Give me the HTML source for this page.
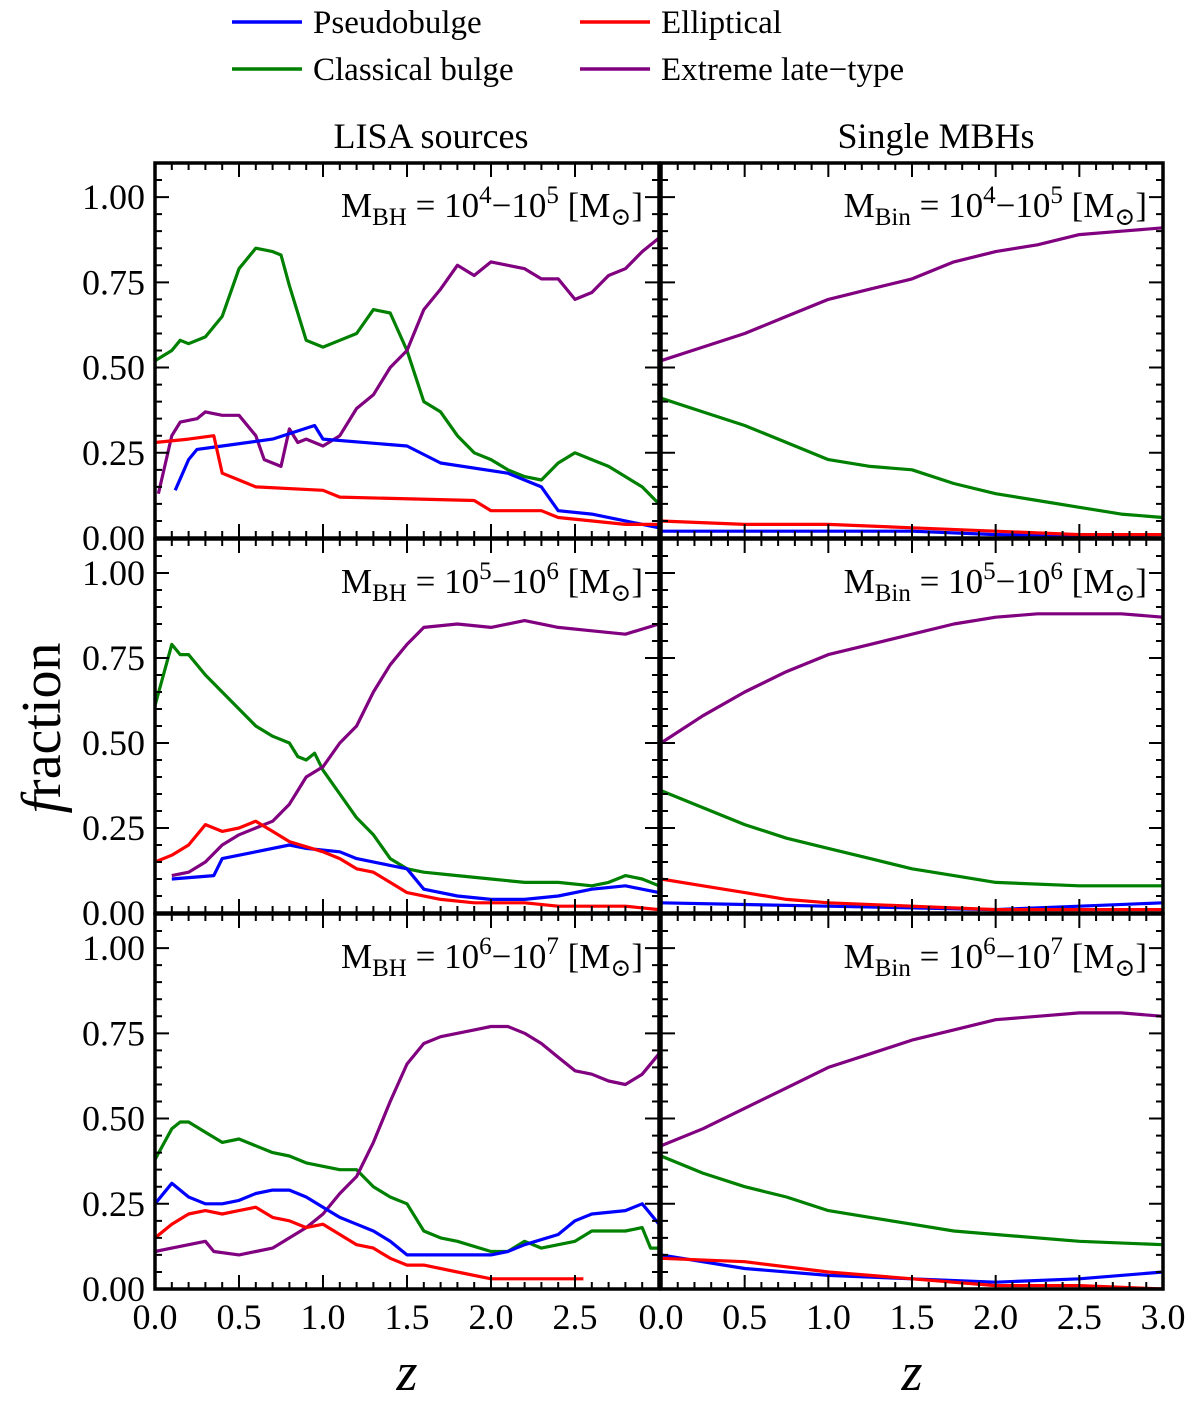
<!DOCTYPE html>
<html><head><meta charset="utf-8"><style>
html,body{margin:0;padding:0;background:#fff;}
svg{display:block;font-family:"Liberation Serif","DejaVu Serif",serif;}
</style></head><body>
<svg id="fig" width="1200" height="1401" viewBox="0 0 1200 1401" xmlns="http://www.w3.org/2000/svg">
<g font-size="33">
  <g><line x1="232" y1="22" x2="302" y2="22" stroke="#0000ff" stroke-width="3.5"/><text x="313" y="33">Pseudobulge</text></g>
  <g><line x1="232" y1="69" x2="302" y2="69" stroke="#008000" stroke-width="3.5"/><text x="313" y="80">Classical bulge</text></g>
  <g><line x1="580" y1="22" x2="650" y2="22" stroke="#ff0000" stroke-width="3.5"/><text x="661" y="33">Elliptical</text></g>
  <g><line x1="580" y1="69" x2="650" y2="69" stroke="#800080" stroke-width="3.5"/><text x="661" y="80">Extreme late−type</text></g>
</g>
<text x="431" y="148" font-size="36" text-anchor="middle">LISA sources</text>
<text x="936" y="148" font-size="36" text-anchor="middle">Single MBHs</text>
<text x="0" y="0" font-size="56" text-anchor="middle" transform="translate(60,728) rotate(-90)"><tspan font-style="italic">f</tspan>raction</text>
<text x="407" y="1390" font-size="54" font-style="italic" text-anchor="middle">z</text>
<text x="912" y="1390" font-size="54" font-style="italic" text-anchor="middle">z</text>
<g id="panels"></g>
</svg>
<script>
const tl_green=[[0,0.52],[0.1,0.55],[0.15,0.58],[0.2,0.57],[0.3,0.59],[0.4,0.65],[0.5,0.79],[0.6,0.85],[0.7,0.84],[0.75,0.83],[0.8,0.74],[0.9,0.58],[1.0,0.56],[1.1,0.58],[1.2,0.60],[1.3,0.67],[1.4,0.66],[1.5,0.55],[1.6,0.40],[1.7,0.37],[1.8,0.30],[1.9,0.25],[2.0,0.23],[2.1,0.20],[2.2,0.18],[2.3,0.17],[2.4,0.22],[2.5,0.25],[2.6,0.23],[2.7,0.21],[2.8,0.18],[2.9,0.15],[3.0,0.10]];
const tl_purple=[[0.02,0.13],[0.1,0.30],[0.15,0.34],[0.25,0.35],[0.3,0.37],[0.4,0.36],[0.5,0.36],[0.6,0.30],[0.65,0.23],[0.75,0.21],[0.8,0.32],[0.85,0.28],[0.9,0.29],[1.0,0.27],[1.1,0.30],[1.2,0.38],[1.3,0.42],[1.4,0.50],[1.5,0.55],[1.6,0.67],[1.7,0.73],[1.8,0.80],[1.9,0.77],[2.0,0.81],[2.1,0.80],[2.2,0.79],[2.3,0.76],[2.4,0.76],[2.5,0.70],[2.6,0.72],[2.7,0.77],[2.8,0.79],[2.9,0.84],[3.0,0.88]];
const tl_blue=[[0.12,0.14],[0.2,0.23],[0.25,0.26],[0.4,0.27],[0.7,0.29],[0.95,0.33],[1.0,0.29],[1.5,0.27],[1.7,0.22],[2.1,0.19],[2.3,0.15],[2.4,0.08],[2.6,0.07],[3.0,0.03]];
const tl_red=[[0,0.28],[0.2,0.29],[0.35,0.30],[0.4,0.19],[0.5,0.17],[0.6,0.15],[1.0,0.14],[1.1,0.12],[1.9,0.11],[2.0,0.08],[2.3,0.08],[2.4,0.06],[2.8,0.04],[3.0,0.04]];

const ml_green=[[0,0.61],[0.05,0.70],[0.1,0.79],[0.15,0.76],[0.2,0.76],[0.3,0.70],[0.4,0.65],[0.5,0.60],[0.6,0.55],[0.7,0.52],[0.8,0.50],[0.85,0.46],[0.9,0.45],[0.95,0.47],[1.0,0.42],[1.1,0.35],[1.2,0.28],[1.3,0.23],[1.4,0.16],[1.5,0.13],[1.6,0.12],[1.8,0.11],[2.0,0.10],[2.2,0.09],[2.4,0.09],[2.6,0.08],[2.7,0.09],[2.8,0.11],[2.9,0.10],[3.0,0.08]];
const ml_purple=[[0.1,0.11],[0.2,0.12],[0.3,0.15],[0.4,0.20],[0.5,0.23],[0.6,0.25],[0.7,0.27],[0.8,0.32],[0.9,0.40],[1.0,0.43],[1.1,0.50],[1.2,0.55],[1.3,0.65],[1.4,0.73],[1.5,0.79],[1.6,0.84],[1.8,0.85],[2.0,0.84],[2.2,0.86],[2.4,0.84],[2.6,0.83],[2.8,0.82],[3.0,0.85]];
const ml_red=[[0,0.15],[0.1,0.17],[0.2,0.20],[0.3,0.26],[0.4,0.24],[0.5,0.25],[0.6,0.27],[0.7,0.24],[0.8,0.21],[1.0,0.18],[1.1,0.16],[1.2,0.13],[1.3,0.12],[1.4,0.09],[1.5,0.06],[1.7,0.04],[1.9,0.03],[2.2,0.03],[2.4,0.02],[2.6,0.02],[2.8,0.02],[3.0,0.01]];
const ml_blue=[[0.1,0.10],[0.35,0.11],[0.4,0.16],[0.6,0.18],[0.8,0.20],[0.9,0.19],[1.1,0.18],[1.2,0.16],[1.4,0.14],[1.5,0.13],[1.6,0.07],[1.8,0.05],[2.0,0.04],[2.2,0.04],[2.4,0.05],[2.6,0.07],[2.8,0.08],[3.0,0.06]];

const bl_green=[[0,0.38],[0.1,0.47],[0.15,0.49],[0.2,0.49],[0.3,0.46],[0.4,0.43],[0.5,0.44],[0.6,0.42],[0.7,0.40],[0.8,0.39],[0.9,0.37],[1.0,0.36],[1.1,0.35],[1.2,0.35],[1.3,0.30],[1.4,0.27],[1.5,0.25],[1.6,0.17],[1.7,0.15],[1.8,0.14],[2.0,0.11],[2.1,0.11],[2.2,0.14],[2.3,0.12],[2.5,0.14],[2.6,0.17],[2.7,0.17],[2.8,0.17],[2.9,0.18],[2.95,0.12],[3.0,0.12]];
const bl_purple=[[0,0.11],[0.1,0.12],[0.2,0.13],[0.3,0.14],[0.35,0.11],[0.5,0.10],[0.6,0.11],[0.7,0.12],[0.8,0.15],[0.9,0.18],[1.0,0.22],[1.1,0.28],[1.2,0.33],[1.3,0.43],[1.4,0.55],[1.5,0.66],[1.6,0.72],[1.7,0.74],[1.8,0.75],[1.9,0.76],[2.0,0.77],[2.1,0.77],[2.2,0.75],[2.3,0.72],[2.4,0.68],[2.5,0.64],[2.6,0.63],[2.7,0.61],[2.8,0.60],[2.9,0.63],[3.0,0.69]];
const bl_blue=[[0,0.25],[0.1,0.31],[0.2,0.27],[0.3,0.25],[0.4,0.25],[0.5,0.26],[0.6,0.28],[0.7,0.29],[0.8,0.29],[0.9,0.27],[1.0,0.24],[1.1,0.21],[1.2,0.19],[1.3,0.17],[1.4,0.14],[1.5,0.10],[1.6,0.10],[1.8,0.10],[2.0,0.10],[2.1,0.11],[2.2,0.13],[2.4,0.16],[2.5,0.20],[2.6,0.22],[2.8,0.23],[2.9,0.25],[3.0,0.19]];
const bl_red=[[0,0.15],[0.1,0.19],[0.2,0.22],[0.3,0.23],[0.4,0.22],[0.5,0.23],[0.6,0.24],[0.7,0.21],[0.8,0.20],[0.9,0.18],[1.0,0.19],[1.1,0.16],[1.2,0.13],[1.3,0.12],[1.4,0.09],[1.5,0.07],[1.6,0.07],[1.8,0.05],[2.0,0.03],[2.2,0.03],[2.55,0.03]];

const tr_purple=[[0,0.52],[0.25,0.56],[0.5,0.60],[0.75,0.65],[1.0,0.70],[1.25,0.73],[1.5,0.76],[1.75,0.81],[2.0,0.84],[2.25,0.86],[2.5,0.89],[2.75,0.90],[3.0,0.91]];
const tr_green=[[0,0.41],[0.25,0.37],[0.5,0.33],[0.75,0.28],[1.0,0.23],[1.25,0.21],[1.5,0.20],[1.75,0.16],[2.0,0.13],[2.25,0.11],[2.5,0.09],[2.75,0.07],[3.0,0.06]];
const tr_red=[[0,0.05],[0.5,0.04],[1.0,0.04],[1.5,0.03],[2.0,0.02],[2.5,0.01],[3.0,0.01]];
const tr_blue=[[0,0.02],[1.0,0.02],[1.5,0.02],[2.0,0.01],[3.0,0.0]];

const mr_purple=[[0,0.50],[0.25,0.58],[0.5,0.65],[0.75,0.71],[1.0,0.76],[1.25,0.79],[1.5,0.82],[1.75,0.85],[2.0,0.87],[2.25,0.88],[2.5,0.88],[2.75,0.88],[3.0,0.87]];
const mr_green=[[0,0.36],[0.25,0.31],[0.5,0.26],[0.75,0.22],[1.0,0.19],[1.25,0.16],[1.5,0.13],[1.75,0.11],[2.0,0.09],[2.5,0.08],[3.0,0.08]];
const mr_red=[[0,0.10],[0.25,0.08],[0.5,0.06],[0.75,0.04],[1.0,0.03],[1.5,0.02],[2.0,0.01],[3.0,0.01]];
const mr_blue=[[0,0.03],[1.0,0.02],[2.0,0.01],[2.5,0.02],[3.0,0.03]];

const br_purple=[[0,0.42],[0.25,0.47],[0.5,0.53],[0.75,0.59],[1.0,0.65],[1.25,0.69],[1.5,0.73],[1.75,0.76],[2.0,0.79],[2.25,0.80],[2.5,0.81],[2.75,0.81],[3.0,0.80]];
const br_green=[[0,0.39],[0.25,0.34],[0.5,0.30],[0.75,0.27],[1.0,0.23],[1.25,0.21],[1.5,0.19],[1.75,0.17],[2.0,0.16],[2.5,0.14],[3.0,0.13]];
const br_red=[[0,0.09],[0.5,0.08],[1.0,0.05],[1.5,0.03],[2.0,0.01],[2.5,0.01],[3.0,0.0]];
const br_blue=[[0,0.10],[0.5,0.06],[1.0,0.04],[1.5,0.03],[2.0,0.02],[2.5,0.03],[3.0,0.05]];

const yTickLabels=["0.00","0.25","0.50","0.75","1.00"];
const xTickLabels=["0.0","0.5","1.0","1.5","2.0","2.5","3.0"];
const massRanges=[["4","5"],["5","6"],["6","7"]];

const NS="http://www.w3.org/2000/svg";
const root=document.getElementById("panels");
const colors={blue:"#0000ff",red:"#ff0000",green:"#008000",purple:"#800080"};
const cols=[{x0:155,x1:659},{x0:661,x1:1163}];
const rows=[{top:163,bot:538},{top:539,bot:913},{top:914,bot:1289}];
function mk(tag,attrs,parent){const e=document.createElementNS(NS,tag);for(const k in attrs)e.setAttribute(k,attrs[k]);(parent||root).appendChild(e);return e;}

const panelData=[
 [{blue:tl_blue,red:tl_red,green:tl_green,purple:tl_purple},{blue:tr_blue,red:tr_red,green:tr_green,purple:tr_purple}],
 [{blue:ml_blue,red:ml_red,green:ml_green,purple:ml_purple},{blue:mr_blue,red:mr_red,green:mr_green,purple:mr_purple}],
 [{blue:bl_blue,red:bl_red,green:bl_green,purple:bl_purple},{blue:br_blue,red:br_red,green:br_green,purple:br_purple}]];

rows.forEach((r,ri)=>{cols.forEach((c,ci)=>{
  const g=mk("g",{});
  
  
  const xs=v=>c.x0+(v/3)*(c.x1-c.x0);
  const ys=v=>r.bot-(v/1.1)*(r.bot-r.top);
  const d=panelData[ri][ci];
  ["green","purple","blue","red"].forEach(k=>{
    const pts=d[k].map(p=>xs(p[0]).toFixed(1)+","+ys(p[1]).toFixed(1)).join(" ");
    const pl=mk("polyline",{points:pts,fill:"none",stroke:colors[k],"stroke-width":3.2,"stroke-linejoin":"round"},g);
    
    
  });
  let tk="";
  for(let i=0;i<=30;i++){const x=xs(i/10);const L=(i%5==0)?14:7;tk+=`M${x},${r.bot}v-${L}M${x},${r.top}v${L}`;}
  for(let i=0;i<=22;i++){const y=ys(i*0.05);const L=(i%5==0)?14:7;tk+=`M${c.x0},${y}h${L}M${c.x1},${y}h-${L}`;}
  const tp=mk("path",{d:tk,stroke:"#000","stroke-width":2,fill:"none"},g);
  
  
  const fr=mk("rect",{x:c.x0,y:r.top,width:c.x1-c.x0,height:r.bot-r.top,fill:"none",stroke:"#000","stroke-width":3.5},g);
  
  
  const t=mk("text",{x:c.x1-16,y:r.top+54,"font-size":35,"text-anchor":"end"},g);
  
  
  const m=massRanges[ri];
  t.innerHTML=`M<tspan font-size="25" dy="8">${ci?'Bin':'BH'}</tspan><tspan dy="-8"> = 10</tspan><tspan font-size="25" dy="-14">${m[0]}</tspan><tspan dy="14">−10</tspan><tspan font-size="25" dy="-14">${m[1]}</tspan><tspan dy="14"> [M</tspan><tspan font-size="25" dy="8">⊙</tspan><tspan dy="-8">]</tspan>`;
  if(ci==0){
    yTickLabels.forEach((lab,i)=>{const tl=mk("text",{x:c.x0-10,y:ys(i*0.25)+12,"font-size":36,"text-anchor":"end"},g);tl.textContent=lab;
      
      });
  }
  if(ri==2){
    xTickLabels.forEach((lab,i)=>{ if(ci==0&&i==6) return;
      const tl=mk("text",{x:xs(i*0.5),y:r.bot+40,"font-size":36,"text-anchor":"middle"},g);tl.textContent=lab;
      
      });
  }
});});
</script>
</body></html>
